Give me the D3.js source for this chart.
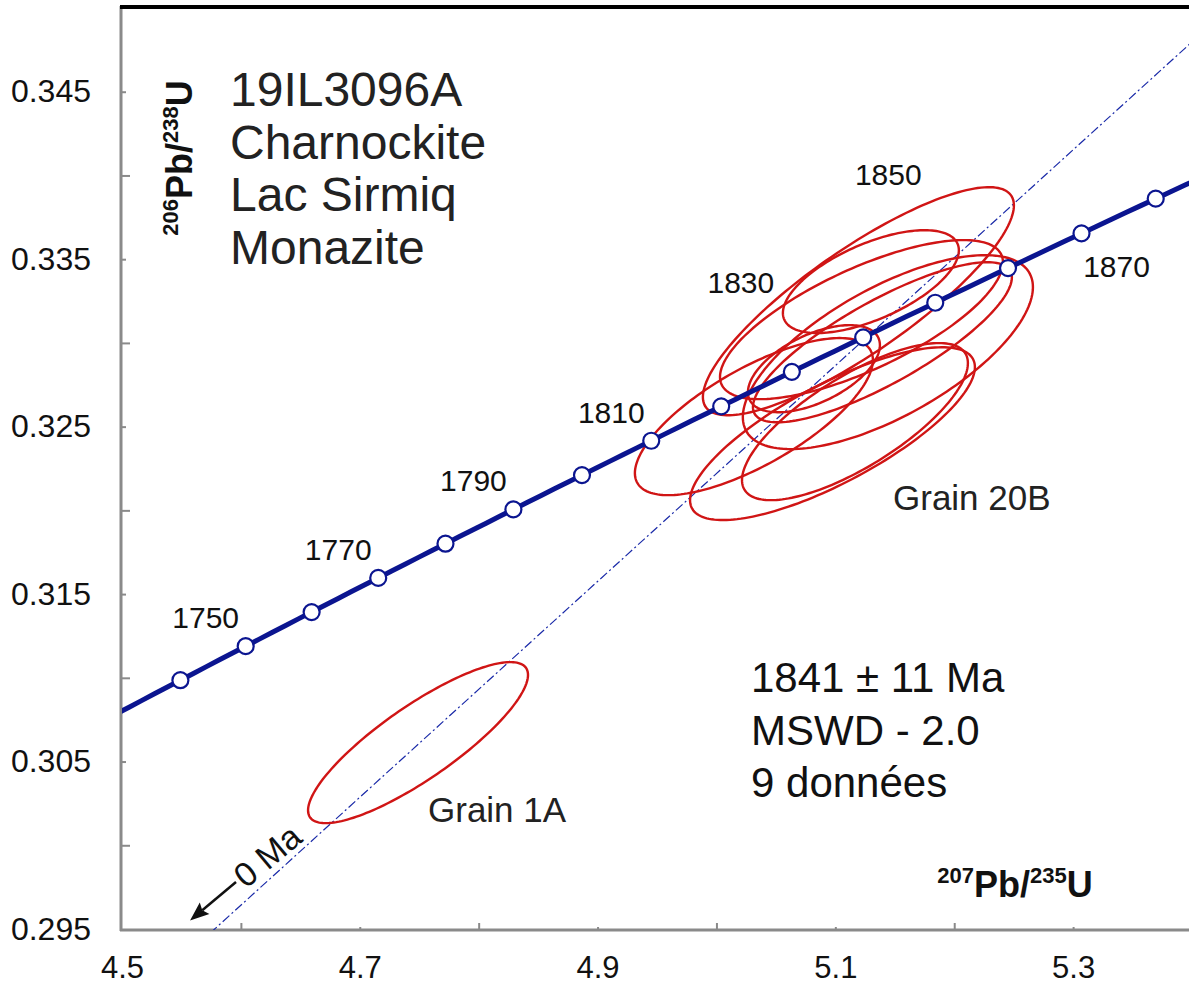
<!DOCTYPE html>
<html>
<head>
<meta charset="utf-8">
<script src="https://cdn.jsdelivr.net/npm/d3@7"></script>
<style>
  body { margin: 0; background: #fff; }
  svg { display: block; font-family: "Liberation Sans", Arial, sans-serif; }
</style>
</head>
<body>
<div id="container"></div>
<script>
// Sample text
const titleLines = ["19IL3096A", "Charnockite", "Lac Sirmiq", "Monazite"];
const resultLines = ["1841 \u00b1 11 Ma", "MSWD - 2.0", "9 donn\u00e9es"];

// Axis ticks
const xTickLabels = [4.5, 4.7, 4.9, 5.1, 5.3];
const xTickMarks = [4.6, 4.7, 4.8, 4.9, 5.0, 5.1, 5.2, 5.3];
const yTickLabels = [0.295, 0.305, 0.315, 0.325, 0.335, 0.345];
const yTickMarks = [0.3, 0.305, 0.31, 0.315, 0.32, 0.325, 0.33, 0.335, 0.34, 0.345];

// Concordia age markers (Ma)
const concordiaAges = [1740, 1750, 1760, 1770, 1780, 1790, 1800, 1810, 1820, 1830, 1840, 1850, 1860, 1870, 1880];
const labelledAges = [1750, 1770, 1790, 1810, 1830, 1850, 1870];
const upperIntercept = 1841;
const lowerIntercept = 0;

// Error ellipses: centre 207Pb/235U, centre 206Pb/238U, half-widths and error correlation
const grainNames = ["A", "B", "C", "D", "E", "F1", "F2", "G1", "G2", "1A"];
const ell207 = [5.1194, 5.1299, 5.1442, 5.1396, 5.1220, 5.0315, 5.0820, 5.0976, 5.1165, 4.7490];
const ell206 = [0.33249, 0.33366, 0.32945, 0.33004, 0.33139, 0.32560, 0.32846, 0.32458, 0.32530, 0.30613];
const err207 = [0.1308, 0.0740, 0.1220, 0.1089, 0.1190, 0.1001, 0.0555, 0.1198, 0.0950, 0.0925];
const err206 = [0.00681, 0.00307, 0.00579, 0.00478, 0.00475, 0.00469, 0.00260, 0.00516, 0.00469, 0.00481];
const errRho = [0.84, 0.61, 0.67, 0.81, 0.72, 0.72, 0.54, 0.77, 0.745, 0.84];

const width = 1189;
const height = 985;
const marginLeft = 122;
const marginTop = 8;
const plotBottom = 930;

const x = d3.scaleLinear().domain([4.5, 5.4]).range([marginLeft, 1192]);
const y = d3.scaleLinear().domain([0.295, 0.35]).range([plotBottom - 1, marginTop]);

// decay constants
const L238 = 1.55125e-10;
const L235 = 9.8485e-10;
function concordia(t) {
  return [Math.exp(L235 * t * 1e6) - 1, Math.exp(L238 * t * 1e6) - 1];
}

const svg = d3.create("svg").attr("width", width).attr("height", height);

svg.append("defs").append("clipPath").attr("id", "plot")
  .append("rect").attr("x", marginLeft).attr("y", marginTop)
  .attr("width", width - marginLeft).attr("height", plotBottom - marginTop);

const navy = "#0b1590";
const red = "#d01515";

// Ticks (inside the frame)
svg.append("g")
  .attr("transform", `translate(0,${plotBottom})`)
  .call(d3.axisBottom(x).tickValues(xTickMarks).tickSizeInner(-7).tickSizeOuter(0).tickFormat(""))
  .call(g => g.select(".domain").remove())
  .call(g => g.selectAll("line").attr("stroke", "#8a8a8a").attr("stroke-width", 2)
    .attr("y2", d => xTickLabels.some(v => Math.abs(v - d) < 1e-9) ? -3 : -7));

svg.append("g")
  .attr("transform", `translate(${marginLeft},0)`)
  .call(d3.axisLeft(y).tickValues(yTickMarks).tickSizeInner(-8).tickSizeOuter(0).tickFormat(""))
  .call(g => g.select(".domain").remove())
  .call(g => g.selectAll("line").attr("stroke", "#8a8a8a").attr("stroke-width", 2)
    .attr("x2", d => yTickLabels.some(v => Math.abs(v - d) < 1e-9) ? 4 : 8));

// Tick labels
svg.append("g")
  .attr("transform", `translate(0,${plotBottom})`)
  .call(d3.axisBottom(x).tickValues(xTickLabels).tickSize(0).tickPadding(26).tickFormat(d3.format(".1f")))
  .call(g => g.select(".domain").remove())
  .call(g => g.selectAll("text").attr("font-size", 31).attr("fill", "#111")
    .attr("font-family", "Liberation Sans, Arial, sans-serif"));

svg.append("g")
  .attr("transform", `translate(${marginLeft},0)`)
  .call(d3.axisLeft(y).tickValues(yTickLabels).tickSize(0).tickPadding(31).tickFormat(d3.format(".3f")))
  .call(g => g.select(".domain").remove())
  .call(g => g.selectAll("text").attr("font-size", 32).attr("fill", "#111")
    .attr("font-family", "Liberation Sans, Arial, sans-serif"));

// Frame lines
svg.append("line").attr("x1", marginLeft - 1).attr("x2", marginLeft - 1)
  .attr("y1", marginTop - 2).attr("y2", plotBottom + 1)
  .attr("stroke", "#8a8a8a").attr("stroke-width", 3);
svg.append("line").attr("x1", marginLeft - 2).attr("x2", width)
  .attr("y1", plotBottom).attr("y2", plotBottom)
  .attr("stroke", "#8a8a8a").attr("stroke-width", 3);
svg.append("line").attr("x1", marginLeft - 2).attr("x2", width)
  .attr("y1", marginTop - 1).attr("y2", marginTop - 1)
  .attr("stroke", "#000").attr("stroke-width", 4);

const plot = svg.append("g").attr("clip-path", "url(#plot)");

// Discordia through lower and upper intercepts
const p0 = concordia(lowerIntercept);
const p1 = concordia(upperIntercept);
const slope = (p1[1] - p0[1]) / (p1[0] - p0[0]);
const xs = [4.5, 5.45];
plot.append("line")
  .attr("x1", x(xs[0])).attr("y1", y(p0[1] + slope * (xs[0] - p0[0])))
  .attr("x2", x(xs[1])).attr("y2", y(p0[1] + slope * (xs[1] - p0[0])))
  .attr("stroke", "#1a2aa8").attr("stroke-width", 1.2)
  .attr("stroke-dasharray", "9,3,2,3");

// Error ellipses
const ellLine = d3.line().curve(d3.curveLinearClosed);
grainNames.forEach((name, i) => {
  const pts = d3.range(0, 2 * Math.PI, Math.PI / 90).map(t => {
    const ex = ell207[i] + err207[i] * Math.cos(t);
    const ey = ell206[i] + err206[i] * (errRho[i] * Math.cos(t) + Math.sqrt(1 - errRho[i] ** 2) * Math.sin(t));
    return [x(ex), y(ey)];
  });
  plot.append("path").attr("d", ellLine(pts))
    .attr("fill", "none").attr("stroke", red).attr("stroke-width", 2.4);
});

// Concordia curve
const curveAges = d3.range(1700, 1901, 2);
plot.append("path")
  .attr("d", d3.line().x(t => x(concordia(t)[0])).y(t => y(concordia(t)[1]))(curveAges))
  .attr("fill", "none").attr("stroke", navy).attr("stroke-width", 5);

plot.selectAll("circle.age")
  .data(concordiaAges)
  .join("circle")
  .attr("cx", t => x(concordia(t)[0]))
  .attr("cy", t => y(concordia(t)[1]))
  .attr("r", 8)
  .attr("fill", "#fff").attr("stroke", navy).attr("stroke-width", 2.2);

// Age labels
const labelOffset = { 1830: [-51, -79], 1850: [-47, -118], 1870: [35, 44] };
svg.selectAll("text.age")
  .data(labelledAges)
  .join("text")
  .attr("x", t => x(concordia(t)[0]) + (labelOffset[t] ? labelOffset[t][0] : -40))
  .attr("y", t => y(concordia(t)[1]) + (labelOffset[t] ? labelOffset[t][1] : -18))
  .attr("text-anchor", "middle")
  .attr("font-size", 30).attr("fill", "#111")
  .text(t => t);

// Sample title
svg.append("text").attr("font-size", 48).attr("fill", "#222")
  .selectAll("tspan").data(titleLines).join("tspan")
  .attr("x", 230).attr("y", (d, i) => 106 + i * 52.7)
  .text(d => d);

// Age result
svg.append("text").attr("font-size", 42).attr("fill", "#111")
  .selectAll("tspan").data(resultLines).join("tspan")
  .attr("x", 751).attr("y", (d, i) => 692 + i * 52.5)
  .text(d => d);

// Grain labels
svg.append("text").attr("x", 893).attr("y", 510).attr("font-size", 35).attr("fill", "#222").text("Grain 20B");
svg.append("text").attr("x", 428).attr("y", 822).attr("font-size", 35).attr("fill", "#222").text("Grain 1A");

// Ratio labels with superscripts
function ratioLabel(sel, a, b, c, d) {
  sel.attr("font-weight", "bold").attr("font-size", 36).attr("fill", "#111");
  sel.append("tspan").attr("font-size", 22).attr("dy", -14).text(a);
  sel.append("tspan").attr("dy", 14).text(b);
  sel.append("tspan").attr("font-size", 22).attr("dy", -14).text(c);
  sel.append("tspan").attr("dy", 14).text(d);
}
svg.append("text").attr("transform", "translate(192,158) rotate(-90)")
  .attr("text-anchor", "middle")
  .call(ratioLabel, "206", "Pb/", "238", "U");
svg.append("text").attr("x", 1015).attr("y", 897)
  .attr("text-anchor", "middle")
  .call(ratioLabel, "207", "Pb/", "235", "U");

// 0 Ma arrow
const arrow = svg.append("g").attr("transform", "translate(236,882) rotate(-40)");
arrow.append("line").attr("x1", 0).attr("y1", 0).attr("x2", -44).attr("y2", 0)
  .attr("stroke", "#111").attr("stroke-width", 2.5);
arrow.append("path").attr("d", "M-60,0 L-41,-7.5 L-44,0 L-41,7.5 Z").attr("fill", "#111");
arrow.append("text").attr("x", 3).attr("y", 12).attr("font-size", 34).attr("fill", "#111").text("0 Ma");

document.getElementById("container").append(svg.node());
</script>
</body>
</html>
